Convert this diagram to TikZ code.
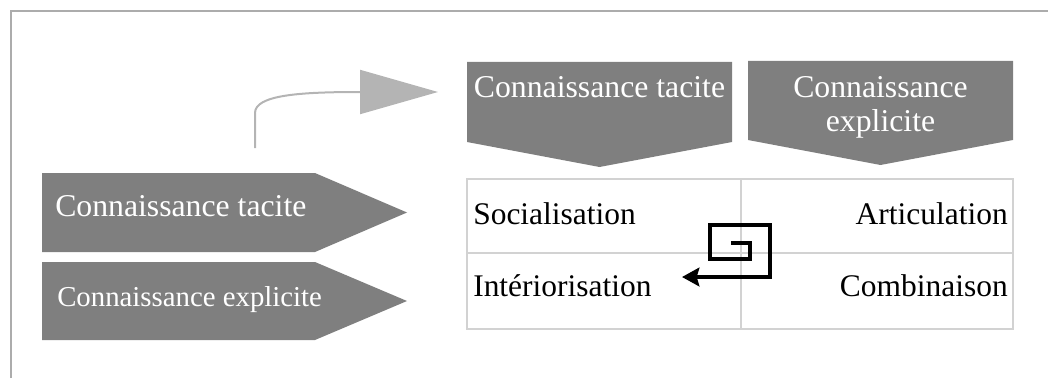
\documentclass[tikz,border=0pt]{standalone}
\usepackage{fontspec}
\setmainfont{Liberation Serif}
\usetikzlibrary{arrows.meta}

\definecolor{boxgray}{RGB}{127,127,127}
\definecolor{arrowgray}{RGB}{180,180,180}
\definecolor{gridgray}{RGB}{210,210,210}
\definecolor{framegray}{RGB}{172,172,172}

\begin{document}
\begin{tikzpicture}[x=0.75pt,y=-0.75pt,
    lbl/.style={text=white,inner sep=0pt,font=\fontsize{23.8}{27}\selectfont},
    cell/.style={text=black,inner sep=0pt,font=\fontsize{23.6}{27}\selectfont}]
    \useasboundingbox (0,0) rectangle (1048,378);

    % frame
    \draw[framegray,line width=1.5pt] (11,378) -- (11,11) -- (1048,11);

    % left pentagons
    \coordinate (t1) at (42,173);
    \coordinate (t2) at (42,262);
    \fill[boxgray] (t1) -- ++(273,0) -- ++(92,39.5) -- ++(-92,39.5) -- ++(-273,0) -- cycle;
    \fill[boxgray] (t2) -- ++(273,0) -- ++(92,39) -- ++(-92,39) -- ++(-273,0) -- cycle;
    \node[lbl,anchor=base west] (tacite) at (55,216) {Connaissance tacite};
    \node[lbl,anchor=base west,font=\fontsize{21.6}{25}\selectfont] (explicite) at (57,306) {Connaissance explicite};

    % top chevrons
    \coordinate (c1) at (467,62);
    \coordinate (c2) at (748,61);
    \fill[boxgray] (c1) -- ++(265,0) -- ++(0,80) -- ++(-132.5,25) -- ++(-132.5,-25) -- cycle;
    \fill[boxgray] (c2) -- ++(265,0) -- ++(0,79) -- ++(-132.5,25) -- ++(-132.5,-25) -- cycle;
    \node[lbl,anchor=base] (toptacite) at (599.5,98) {Connaissance tacite};
    \node[lbl,anchor=base] (topexpl1) at (880.5,98) {Connaissance};
    \node[lbl,anchor=base] (topexpl2) at (880.5,131) {explicite};

    % curved arrow
    \coordinate (bendstart) at (255,148);
    \coordinate (bendtip) at (438,92);
    \draw[arrowgray,line width=1.5pt,-{Triangle[length=58.5pt,width=33pt]}]
        (bendstart) -- (255,113) .. controls (255,95) and (300,92) .. (360,92) -- (bendtip);

    % table
    \draw[gridgray,line width=1.5pt] (467,179) rectangle (1013,329);
    \draw[gridgray,line width=1.5pt] (741,179) -- (741,329);
    \draw[gridgray,line width=1.5pt] (467,253) -- (1013,253);
    \node[cell,anchor=base west] (soc) at (473,224) {Socialisation};
    \node[cell,anchor=base east] (art) at (1008,224) {Articulation};
    \node[cell,anchor=base west] (inter) at (473,296) {Intériorisation};
    \node[cell,anchor=base east] (comb) at (1008,296) {Combinaison};

    % spiral
    \coordinate (spin) at (731,243);
    \coordinate (spout) at (682,277);
    \draw[line width=2.7pt,-{Stealth[length=13pt,width=14pt,inset=2pt]}]
        (spin) -- (750,243) -- (750,259) -- (710,259) -- (710,225) -- (770,225) -- (770,277) -- (spout);
\end{tikzpicture}
\end{document}
